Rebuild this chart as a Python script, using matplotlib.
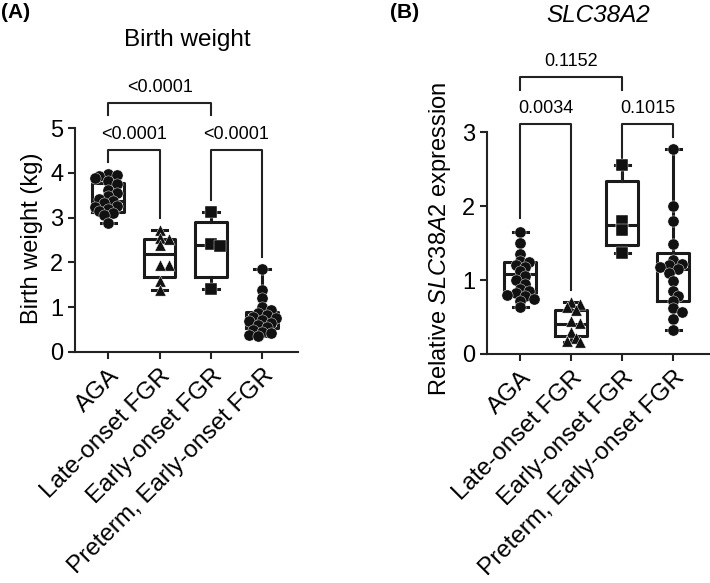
import numpy as np
import matplotlib
matplotlib.use("Agg")
import matplotlib.pyplot as plt

plt.rcParams['font.family'] = ['Liberation Sans', 'DejaVu Sans']
plt.rcParams['mathtext.fontset'] = 'custom'
plt.rcParams['mathtext.rm'] = 'Liberation Sans'
plt.rcParams['mathtext.it'] = 'Liberation Sans:italic'

groups = ['AGA', 'Late-onset FGR', 'Early-onset FGR', 'Preterm, Early-onset FGR']
markers = ['o', '^', 's', 'o']

# birth weight (kg)
bw_aga = [3.97, 3.95, 3.92, 3.88, 3.82, 3.75, 3.62, 3.55, 3.48, 3.42, 3.38, 3.32,
          3.27, 3.24, 3.2, 3.15, 3.1, 3.05, 2.88]
bw_late = [2.72, 2.55, 2.53, 2.38, 1.95, 1.95, 1.58, 1.38]
bw_early = [3.12, 2.42, 2.37, 1.4]
bw_pre = [1.85, 1.38, 1.2, 1.0, 0.93, 0.88, 0.82, 0.78, 0.75, 0.72, 0.7, 0.65,
          0.6, 0.55, 0.5, 0.45, 0.42, 0.38, 0.35]
# box stats: (q1, median, q3)
bw_boxes = [(3.13, 3.37, 3.77), (1.68, 2.19, 2.52), (1.68, 2.39, 2.91), (0.53, 0.72, 0.9)]

# relative SLC38A2 expression
sl_aga = [1.65, 1.5, 1.35, 1.26, 1.24, 1.2, 1.18, 1.12, 1.05, 1.0, 0.95, 0.88,
          0.85, 0.82, 0.8, 0.78, 0.75, 0.72, 0.63]
sl_late = [0.7, 0.68, 0.63, 0.6, 0.45, 0.42, 0.3, 0.22, 0.18, 0.16]
sl_early = [2.55, 1.8, 1.68, 1.37]
sl_pre = [2.77, 2.0, 1.8, 1.48, 1.27, 1.22, 1.2, 1.17, 1.15, 1.1, 0.98, 0.85,
          0.78, 0.72, 0.62, 0.57, 0.47, 0.32]
sl_boxes = [(0.82, 1.08, 1.25), (0.24, 0.41, 0.6), (1.47, 1.74, 2.34), (0.72, 1.15, 1.36)]

bw_tests = ['<0.0001', '<0.0001', '<0.0001']
sl_tests = ['0.0034', '0.1015', '0.1152']


def swarm(vals, ysc, xsc, d=10.0):
    # compact beeswarm (points may overlap a bit, like the original)
    order = np.argsort(vals)[::-1]
    placed = []
    offs = np.zeros(len(vals))
    for k in order:
        y = vals[k] * ysc
        for cand in [0, 1, -1, 2, -2, 3, -3]:
            x = cand * d * 0.45
            if all((x - px) ** 2 + (y - py) ** 2 >= (d * 0.6) ** 2 for px, py in placed):
                break
        placed.append((x, y))
        offs[k] = x / xsc
    return offs


def panel(ax, data, boxes, ymax, ysc):
    xsc = 51.3
    for i, (vals, (q1, med, q3)) in enumerate(zip(data, boxes)):
        stats = [dict(q1=q1, med=med, q3=q3, whislo=min(vals), whishi=max(vals))]
        ax.bxp(stats, positions=[i], widths=0.62, showfliers=False, capwidths=0.3,
               boxprops=dict(color='#1a1a1a', lw=2.2),
               medianprops=dict(color='#1a1a1a', lw=2.2),
               whiskerprops=dict(color='#1a1a1a', lw=2.2),
               capprops=dict(color='#1a1a1a', lw=2.2))
        offs = swarm(np.array(vals), ysc, xsc)
        ax.scatter(i + offs, vals, marker=markers[i], s=65, c='#111111',
                   edgecolors='white', linewidths=0.3, zorder=3, clip_on=False)
    ax.set_xlim(-0.65, 3.7)
    ax.set_ylim(0, ymax)
    ax.set_xticks(range(4))
    ax.set_xticklabels(groups, rotation=45, ha='right', rotation_mode='anchor', fontsize=17.5)
    for s in ['top', 'right']:
        ax.spines[s].set_visible(False)
    for s in ['left', 'bottom']:
        ax.spines[s].set_linewidth(1.5)
        ax.spines[s].set_color('#222222')
    ax.tick_params(width=1.5, length=5, labelsize=17, color='#222222')
    ax.tick_params(axis='x', labelsize=17.5, pad=4)


def bracket(ax, i, j, top, yi, yj, label):
    ax.plot([i, i, j, j], [yi, top, top, yj], color='#222222', lw=1.5, clip_on=False)
    ax.annotate(label, ((i + j) / 2, top), xytext=(0, 5), textcoords='offset points',
                ha='center', va='bottom', fontsize=13, annotation_clip=False)


fig = plt.figure(figsize=(7.1, 5.83), dpi=100)
axA = fig.add_axes([75 / 710, 1 - 352 / 583, 223 / 710, 224 / 583])
axB = fig.add_axes([487 / 710, 1 - 354 / 583, 222 / 710, 222 / 583])

panel(axA, [bw_aga, bw_late, bw_early, bw_pre], bw_boxes, 5, 44.8)
axA.set_yticks(range(6))
axA.set_ylabel('Birth weight (kg)', fontsize=17)
axA.yaxis.set_label_coords(-0.143, 0.51)
bracket(axA, 0, 1, 4.51, 4.24, 2.99, bw_tests[0])
bracket(axA, 2, 3, 4.51, 3.39, 2.12, bw_tests[1])
bracket(axA, 0, 2, 5.56, 5.29, 5.29, bw_tests[2])

panel(axB, [sl_aga, sl_late, sl_early, sl_pre], sl_boxes, 3, 74)
axB.set_yticks(range(4))
axB.set_ylabel(r'Relative $\mathit{SLC38A2}$ expression', fontsize=17)
axB.yaxis.set_label_coords(-0.153, 0.52)
bracket(axB, 0, 1, 3.11, 1.84, 0.86, sl_tests[0])
bracket(axB, 2, 3, 3.11, 2.32, 2.93, sl_tests[1])
bracket(axB, 0, 2, 3.74, 3.57, 3.57, sl_tests[2])

fig.text(187 / 710, 1 - 40 / 583, 'Birth weight', ha='center', va='center', fontsize=17.5)
fig.text(598 / 710, 1 - 15 / 583, 'SLC38A2', ha='center', va='center', fontsize=17.5,
         style='italic')
fig.text(0.002, 1 - 12 / 583, '(A)', ha='left', va='center', fontsize=15, fontweight='bold')
fig.text(390 / 710, 1 - 12 / 583, '(B)', ha='left', va='center', fontsize=15,
         fontweight='bold')

fig.savefig('out.png', dpi=100)
